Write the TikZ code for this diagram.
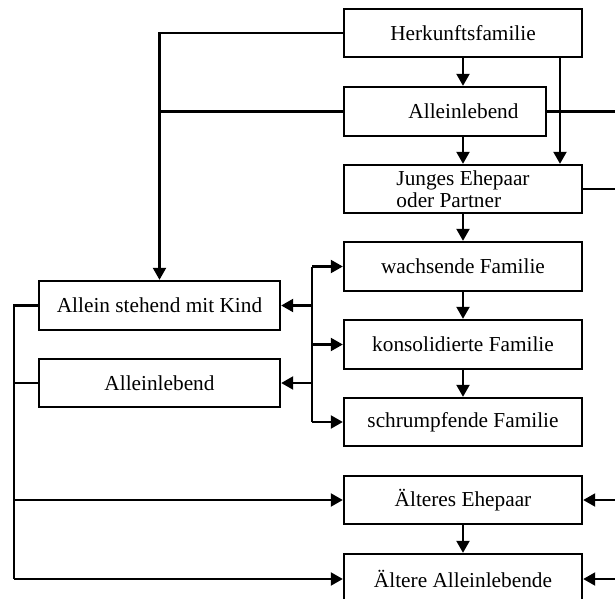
\documentclass[tikz,border=0pt]{standalone}
\usepackage{fontspec}
\setmainfont{Liberation Serif}
\usetikzlibrary{arrows.meta}
\tikzset{
  box/.style={draw, line width=2.4pt, inner sep=0pt, minimum height=48pt,
    font=\fontsize{21.3}{22}\selectfont},
  wbox/.style={box, minimum width=238pt},
  lbox/.style={box, minimum width=241pt},
  ln/.style={line width=2.2pt},
  arr/.style={ln, -{Triangle[length=12pt,width=13pt]}}
}
\begin{document}
\begin{tikzpicture}[x=1pt,y=-1pt]
\useasboundingbox (0,0) rectangle (615,598);
\fill[white] (0,0) rectangle (615,598);
\clip (0,0) rectangle (615,598);
\coordinate (xl) at (14,0);
\coordinate (xm) at (159.5,0);
\coordinate (xb) at (312,0);
\coordinate (xr) at (617,0);
\coordinate (xh) at (560,0);
\coordinate (xc) at (463,0);

\node[wbox] (H) at (463,33) {Herkunftsfamilie};
\node[box, minimum width=202pt, minimum height=49pt] (A1) at (445,111.5) {\hspace*{37pt}Alleinlebend};
\node[wbox, align=left] (J) at (463,189) {Junges Ehepaar\\oder Partner};
\node[wbox, minimum height=49pt] (W) at (463,266.5) {wachsende Familie};
\node[wbox, minimum height=49pt] (K) at (463,344.5) {konsolidierte Familie};
\node[wbox] (S) at (463,422) {schrumpfende Familie};
\node[wbox] (AE) at (463,500) {Älteres Ehepaar};
\node[wbox, minimum height=50pt] (AA) at (463,579) {Ältere Alleinlebende};
\node[lbox, minimum height=49pt] (ASK) at (159.5,305.5) {Allein stehend mit Kind};
\node[lbox] (AL) at (159.5,383) {Alleinlebend};

% main column
\draw[arr] (H.south) -- (A1.north -| xc);
\draw[arr] (H.south -| xh) -- (J.north -| xh);
\draw[arr] (A1.south -| xc) -- (J.north);
\draw[arr] (J.south) -- (W.north);
\draw[arr] (W.south) -- (K.north);
\draw[arr] (K.south) -- (S.north);
\draw[arr] (AE.south) -- (AA.north);

% left branch from top
\draw[arr] (H.west) -| (ASK.north);
\draw[ln] (A1.west) -- (A1.west -| xm);

% right exits
\draw[ln] (A1.east) -- (A1.east -| xr);
\draw[ln] (J.east) -- (J.east -| xr);

% bracket
\draw[ln] (W.west -| xb) -- (S.west -| xb);
\draw[arr] (W.west -| xb) -- (W.west);
\draw[arr] (K.west -| xb) -- (K.west);
\draw[arr] (S.west -| xb) -- (S.west);
\draw[arr] (ASK.east -| xb) -- (ASK.east);
\draw[arr] (AL.east -| xb) -- (AL.east);

% left spine
\draw[ln] (ASK.west) -| (AA.west -| xl);
\draw[ln] (AL.west) -- (AL.west -| xl);
\draw[arr] (AE.west -| xl) -- (AE.west);
\draw[arr] (AA.west -| xl) -- (AA.west);

% right entries
\draw[arr] (AE.east -| xr) -- (AE.east);
\draw[arr] (AA.east -| xr) -- (AA.east);
\end{tikzpicture}
\end{document}
